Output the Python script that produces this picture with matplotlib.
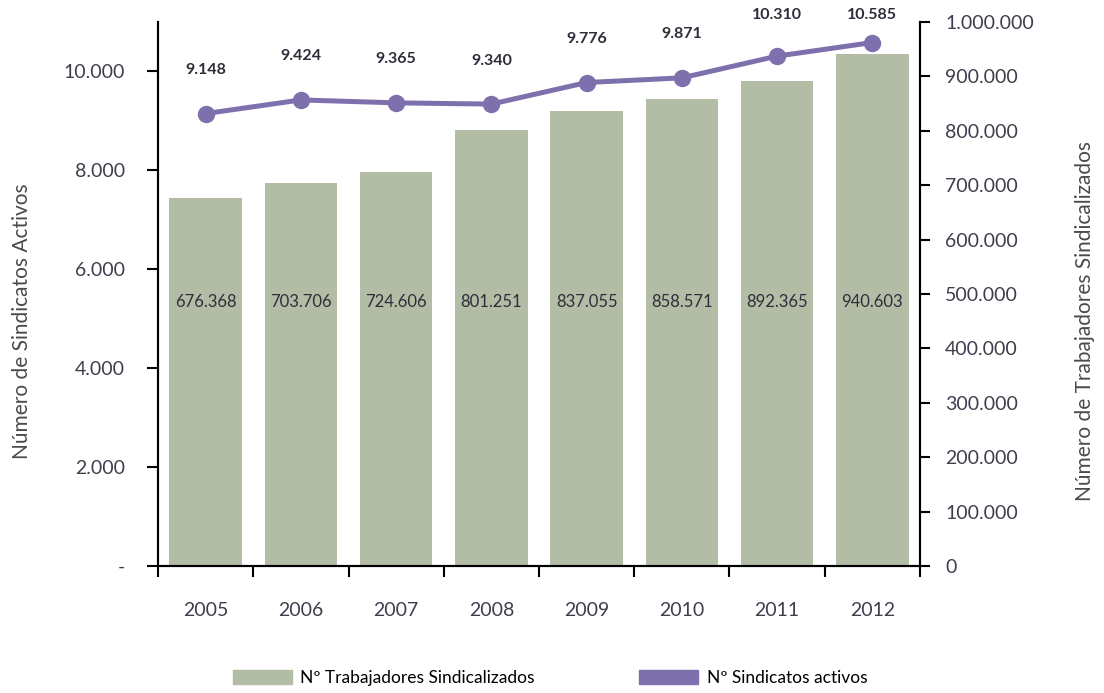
import numpy as np
import matplotlib
matplotlib.use("Agg")
import matplotlib.pyplot as plt
from matplotlib.patches import Patch
from matplotlib.transforms import blended_transform_factory

plt.rcParams["font.family"] = ["Lato", "DejaVu Sans"]

years = ["2005", "2006", "2007", "2008", "2009", "2010", "2011", "2012"]
trabajadores = [676368, 703706, 724606, 801251, 837055, 858571, 892365, 940603]
sindicatos = [9148, 9424, 9365, 9340, 9776, 9871, 10310, 10585]

left_ticks = [0, 2000, 4000, 6000, 8000, 10000]
right_ticks = list(range(0, 1000001, 100000))

bar_color = "#B3BDA6"
line_color = "#7E70AC"
text_color = "#3E3E4C"


def fmt(v):
    return f"{v:,}".replace(",", ".")


fig = plt.figure(figsize=(11.04, 6.93), dpi=100)
ax = fig.add_axes([158/1104, 1 - 566/693, 762/1104, 544/693])
ax2 = ax.twinx()

x = np.arange(len(years))
ax2.bar(x, trabajadores, width=0.76, color=bar_color, zorder=1)
ax.plot(x, sindicatos, color=line_color, lw=3.6, marker="o", ms=11.5, zorder=3)

# line on top of bars
ax.set_zorder(ax2.get_zorder() + 1)
ax.patch.set_visible(False)

ax.set_xlim(-0.5, len(years) - 0.5)
ax.set_ylim(0, 11000)
ax2.set_ylim(0, 1000000)

ax.set_yticks(left_ticks)
ax.set_yticklabels(["-"] + [fmt(v) for v in left_ticks[1:]])
ax2.set_yticks(right_ticks)
ax2.set_yticklabels(["0"] + [fmt(v) for v in right_ticks[1:]])

ax.set_xticks(x)
ax.set_xticklabels(years)
ax.set_xticks(np.arange(-0.5, len(years)), minor=True)
ax.tick_params(axis="x", which="major", length=0, pad=26, labelsize=14, labelcolor=text_color)
ax.tick_params(axis="x", which="minor", length=8, width=1.5, direction="out")
ax.tick_params(axis="y", length=8, width=1.5, pad=16, labelsize=14, labelcolor=text_color)
ax2.tick_params(axis="y", length=7, width=1.5, pad=11, labelsize=14, labelcolor=text_color)

for a in (ax, ax2):
    a.spines["top"].set_visible(False)
    for s in ("left", "right", "bottom"):
        a.spines[s].set_linewidth(1.5)

ax.set_ylabel("Número de Sindicatos Activos", fontsize=15, color="#4A4A4A")
ax.yaxis.set_label_coords(-0.165, 0.45)
ax2.set_ylabel("Número de Trabajadores Sindicalizados", fontsize=15, color="#4A4A4A")
ax2.yaxis.set_label_coords(1.203, 0.45)

# bar value labels at a fixed height
trans = blended_transform_factory(ax2.transData, ax2.transAxes)
for xi, v in zip(x, trabajadores):
    ax2.text(xi, 0.485, fmt(v), transform=trans, ha="center", va="center",
             fontsize=12, color="#2E2E3A")

# line value labels, kept inside the figure at the top
for xi, v in zip(x, sindicatos):
    ax.text(xi, min(v + 880, 11150), fmt(v), ha="center", va="center",
            fontsize=11.5, fontweight="bold", color="#2E2E3A")

handles = [Patch(color=bar_color, label="Nº Trabajadores Sindicalizados"),
           Patch(color=line_color, label="Nº Sindicatos activos")]
fig.legend(handles=handles, loc="center", bbox_to_anchor=(550/1104, 1 - 678/693),
           ncol=2, frameon=False, fontsize=12.5, handlelength=3.4, handleheight=0.8,
           columnspacing=6, handletextpad=0.5)

fig.savefig("out.png", dpi=100)
